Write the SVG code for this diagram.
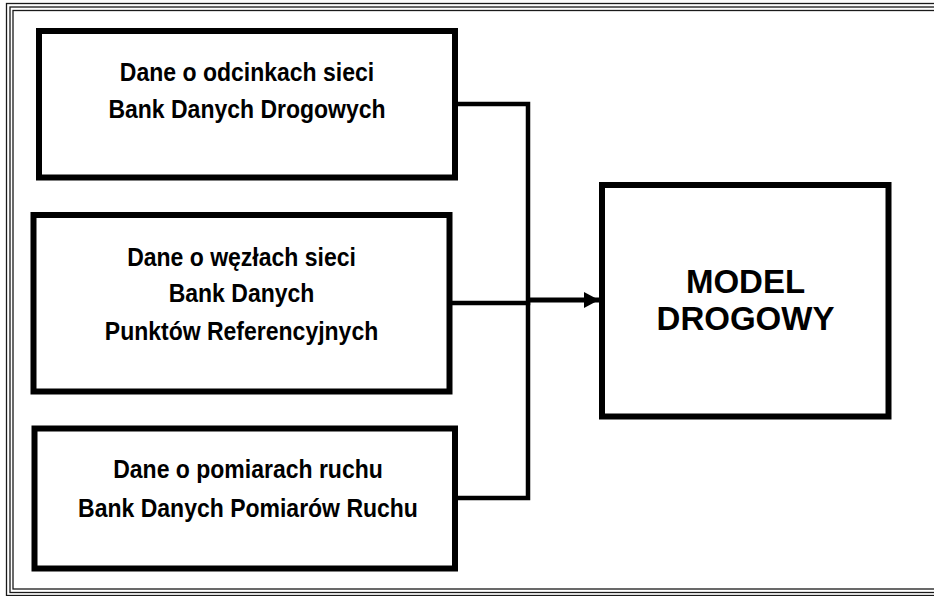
<svg xmlns="http://www.w3.org/2000/svg" width="934" height="596" viewBox="0 0 934 596">
<style>
.frame{fill:none;stroke:#1a1a1a;stroke-width:1.3}
.box{fill:#fff;stroke:#000;stroke-width:6}
.conn{fill:none;stroke:#000;stroke-width:4.5;stroke-linejoin:miter;stroke-linecap:square}
.t{font-family:"Liberation Sans",Arial,sans-serif;font-weight:bold;font-size:23px;fill:#000;text-anchor:middle}
.big{font-family:"Liberation Sans",Arial,sans-serif;font-weight:bold;font-size:33px;fill:#000;text-anchor:middle}
</style>
<defs>
<marker id="ah" markerUnits="userSpaceOnUse" markerWidth="16" markerHeight="18" refX="15" refY="8" orient="auto">
<path d="M0,0 L15,8 L0,16 Z" fill="#000"/>
</marker>
</defs>
<rect width="934" height="596" fill="#fff"/>
<g id="frame">
<rect class="frame" x="6.5" y="3.5" width="940" height="592"/>
<rect class="frame" x="10" y="7" width="940" height="585.5"/>
<rect class="frame" x="13" y="10.5" width="940" height="578.5"/>
</g>
<g id="connectors">
<polyline class="conn" points="458,104 528,104 528,498 458,498"/>
<line class="conn" x1="453" y1="303" x2="528" y2="303"/>
<line x1="528" y1="300" x2="599" y2="300" stroke="#000" stroke-width="5" marker-end="url(#ah)"/>
</g>
<g id="node1">
<rect class="box" x="39" y="31" width="416" height="146.5"/>
<text class="t" transform="translate(247,81) scale(1,1.13)">Dane o odcinkach sieci</text>
<text class="t" transform="translate(247,118) scale(1,1.13)">Bank Danych Drogowych</text>
</g>
<g id="node2">
<rect class="box" x="33.5" y="215" width="416" height="176.5"/>
<text class="t" transform="translate(241.5,266) scale(1,1.13)">Dane o węzłach sieci</text>
<text class="t" transform="translate(241.5,302) scale(1,1.13)">Bank Danych</text>
<text class="t" transform="translate(241.5,340) scale(1,1.13)">Punktów Referencyjnych</text>
</g>
<g id="node3">
<rect class="box" x="34.5" y="428.5" width="420.5" height="140"/>
<text class="t" transform="translate(248,478) scale(1,1.13)">Dane o pomiarach ruchu</text>
<text class="t" transform="translate(248,516.5) scale(1,1.13)">Bank Danych Pomiarów Ruchu</text>
</g>
<g id="node4">
<rect class="box" x="602" y="185" width="286.5" height="231.5"/>
<text class="big" x="745.5" y="292.5">MODEL</text>
<text class="big" x="745.5" y="330">DROGOWY</text>
</g>
</svg>
